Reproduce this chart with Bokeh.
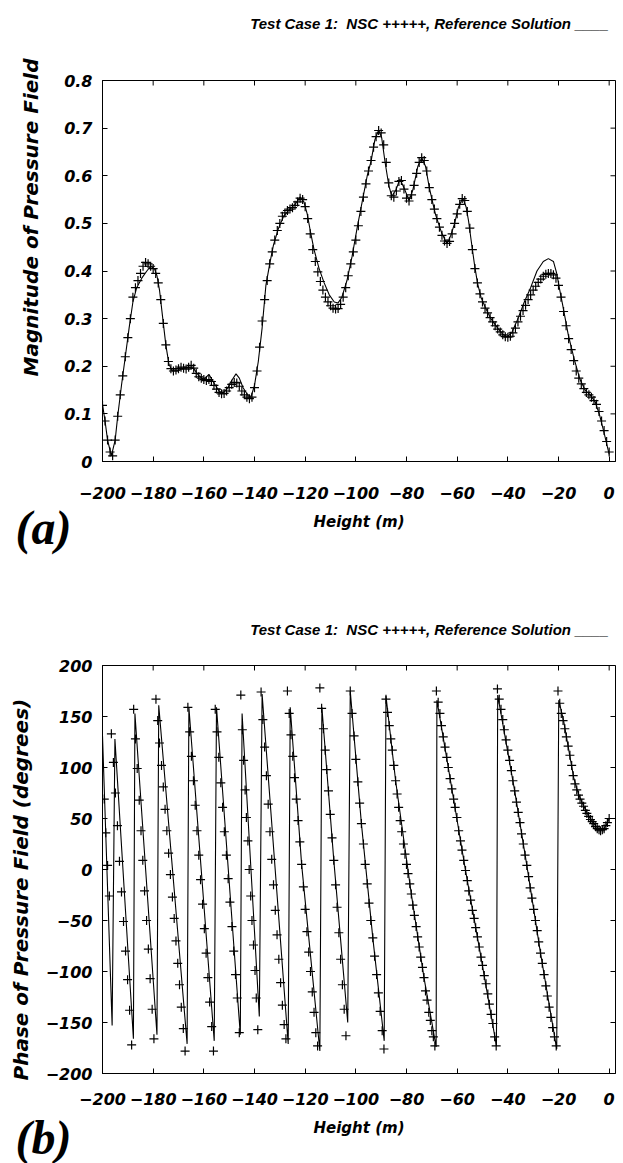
import math
from bokeh.plotting import figure
from bokeh.models import Range1d, FixedTicker, Title, CustomJSTickFormatter
from bokeh.layouts import column
from bokeh.embed import file_html
from bokeh.resources import INLINE

# ---------------- data: panel (a) magnitude ----------------
mag_ref_h = [-200, -199, -198, -196.5, -195, -194, -192.5, -191, -189.5, -188, -186.5, -184.5, -182.5, -181,
             -179.5, -178.5, -177.5, -176.2, -175, -173.8, -172.5, -170.5, -168.5, -166, -164, -162, -160, -158,
             -156, -154, -152.5, -150.5, -149, -147.3, -146, -144.5, -142.5, -141.3, -140, -138.5, -137, -135.5,
             -134, -132.5, -130.5, -128.5, -126, -124, -122, -120.5, -119.2, -118, -116.5, -114.5, -112.5, -110.5,
             -108.5, -107, -105.5, -103.5, -101.5, -99.5, -97.5, -95.5, -94, -92.5, -91, -89.8, -88.5, -87, -85.8,
             -84.2, -82.6, -81, -79, -77.5, -75.5, -74, -72.5, -71, -69.5, -68.5, -66, -64, -62.5, -61, -59.5, -57.8,
             -56.5, -55.5, -54.5, -53.2, -52, -50.6, -48.6, -46.7, -44, -42, -40.3, -38.5, -36, -33.5, -31, -28.5,
             -26, -24, -22, -20.7, -19.5, -18.4, -16.1, -13.8, -11.5, -9.5, -7.5, -5.5, -3.8, -2, 0]
mag_ref_m = [0.12, 0.085, 0.045, 0.012, 0.045, 0.095, 0.16, 0.22, 0.28, 0.335, 0.365, 0.385, 0.40, 0.41,
             0.405, 0.39, 0.36, 0.30, 0.245, 0.205, 0.19, 0.19, 0.195, 0.198, 0.195, 0.18, 0.172, 0.183,
             0.165, 0.148, 0.143, 0.155, 0.17, 0.184, 0.175, 0.155, 0.138, 0.137, 0.16, 0.21, 0.28, 0.37,
             0.415, 0.455, 0.49, 0.515, 0.53, 0.54, 0.555, 0.545, 0.52, 0.485, 0.445, 0.405, 0.375, 0.35,
             0.335, 0.333, 0.345, 0.38, 0.43, 0.49, 0.545, 0.6, 0.63, 0.675, 0.696, 0.68, 0.63, 0.58, 0.557,
             0.57, 0.593, 0.575, 0.548, 0.57, 0.62, 0.638, 0.62, 0.575, 0.54, 0.518, 0.478, 0.458, 0.475, 0.5, 0.534, 0.553,
             0.535, 0.505, 0.465, 0.415, 0.375, 0.345, 0.32, 0.3, 0.28, 0.267, 0.262, 0.27, 0.3, 0.335, 0.365, 0.4,
             0.42, 0.426, 0.42, 0.395, 0.36, 0.33, 0.265, 0.215, 0.172, 0.15, 0.14, 0.125, 0.098, 0.06, 0.015]

mag_nsc_h = [-200, -199, -198, -197, -196, -195, -194, -193, -192, -191,
             -190, -189, -188, -187, -186, -185, -184, -183, -182, -181,
             -180, -179, -178, -177, -176, -175, -174, -173, -172, -171,
             -170, -169, -168, -167, -166, -165, -164, -163, -162, -161,
             -160, -159, -158, -157, -156, -155, -154, -153, -152, -151,
             -150, -149, -148, -147, -146, -145, -144, -143, -142, -141,
             -140, -139, -138, -137, -136, -135, -134, -133, -132, -131,
             -130, -129, -128, -127, -126, -125, -124, -123, -122, -121,
             -120, -119, -118, -117, -116, -115, -114, -113, -112, -111,
             -110, -109, -108, -107, -106, -105, -104, -103, -102, -101,
             -100, -99, -98, -97, -96, -95, -94, -93, -92, -91,
             -90, -89, -88, -87, -86, -85, -84, -83, -82, -81,
             -80, -79, -78, -77, -76, -75, -74, -73, -72, -71,
             -70, -69, -68, -67, -66, -65, -64, -63, -62, -61,
             -60, -59, -58, -57, -56, -55, -54, -53, -52, -51,
             -50, -49, -48, -47, -46, -45, -44, -43, -42, -41,
             -40, -39, -38, -37, -36, -35, -34, -33, -32, -31,
             -30, -29, -28, -27, -26, -25, -24, -23, -22, -21,
             -20, -19, -18, -17, -16, -15, -14, -13, -12, -11,
             -10, -9, -8, -7, -6, -5, -4, -3, -2, -1, 0]
mag_nsc_m = [0.118, 0.085, 0.045, 0.02, 0.012, 0.045, 0.095, 0.14, 0.18, 0.22,
             0.26, 0.30, 0.345, 0.365, 0.38, 0.395, 0.41, 0.418, 0.415, 0.41,
             0.405, 0.395, 0.375, 0.34, 0.29, 0.245, 0.21, 0.195, 0.19, 0.192,
             0.195, 0.198, 0.196, 0.194, 0.198, 0.202, 0.196, 0.185, 0.178, 0.175,
             0.172, 0.17, 0.172, 0.168, 0.16, 0.152, 0.145, 0.142, 0.143, 0.148,
             0.155, 0.162, 0.166, 0.165, 0.158, 0.148, 0.14, 0.135, 0.132, 0.135,
             0.155, 0.19, 0.24, 0.295, 0.34, 0.38, 0.415, 0.44, 0.465, 0.485,
             0.5, 0.515, 0.522, 0.527, 0.53, 0.533, 0.538, 0.545, 0.553, 0.55,
             0.535, 0.51, 0.478, 0.445, 0.42, 0.398, 0.378, 0.36, 0.345, 0.335,
             0.327, 0.322, 0.32, 0.321, 0.33, 0.345, 0.365, 0.39, 0.415, 0.44,
             0.465, 0.495, 0.525, 0.555, 0.583, 0.61, 0.632, 0.66, 0.682, 0.695,
             0.69, 0.665, 0.628, 0.585, 0.558, 0.555, 0.568, 0.588, 0.59, 0.572,
             0.553, 0.547, 0.56, 0.58, 0.605, 0.628, 0.638, 0.632, 0.61, 0.575,
             0.55, 0.53, 0.51, 0.492, 0.475, 0.463, 0.458, 0.462, 0.478, 0.5,
             0.52, 0.54, 0.552, 0.548, 0.525, 0.49, 0.445, 0.405, 0.375, 0.352,
             0.335, 0.322, 0.312, 0.302, 0.293, 0.285, 0.278, 0.272, 0.266, 0.262,
             0.261, 0.263, 0.27, 0.28, 0.293, 0.305, 0.317, 0.328, 0.34, 0.35,
             0.36, 0.368, 0.376, 0.383, 0.389, 0.393, 0.395, 0.395, 0.392, 0.385,
             0.37, 0.345, 0.315, 0.285, 0.258, 0.235, 0.212, 0.19, 0.175, 0.163,
             0.153, 0.145, 0.14, 0.135, 0.128, 0.12, 0.105, 0.085, 0.065, 0.042, 0.02]

# ---------------- data: panel (b) phase ----------------
ph_ref_h = [-200, -196.2, -195.1, -187.8, -187.2, -178.5, -177.8, -166.6, -165.9, -155.9,
            -155.0, -145.6, -144.9, -138.1, -137.0, -126.7, -125.9, -121.4, -114.2,
            -113.4, -108.7, -103.2, -102.2, -97.8, -93.3, -88.8,
            -88.1, -84.3, -78.1, -73.1, -68.3, -68.0, -63.5, -56.7, -50.6, -44.5,
            -44.0, -37.3, -32.5, -27.1, -20.7,
            -19.9, -18, -16, -14, -12, -10, -8, -6, -4, -2.5, -1, 0]
ph_ref_v = [131, -153, 128, -166, 153, -162, 161, -171, 159, -168,
            159, -162, 153, -144, 172, -171, 159, 5, -178,
            159, 9, -150, 175, 45, -67, -168,
            170, 87, -24, -106, -174, 166, 100, -1, -86, -173,
            171, 77, 4, -82, -176,
            166, 146, 118, 90, 73, 62, 52, 45, 39, 39, 44, 50]

ph_nsc_h = [-200.0, -199.3, -198.7, -198.0, -197.3,
            -196.5, -195.7, -194.9, -194.1, -193.3, -192.5, -191.7, -190.9, -190.1, -189.3, -188.5,
            -187.7, -187.0, -186.3, -185.5, -184.8, -184.1, -183.4, -182.6, -181.9, -181.2, -180.4, -179.7,
            -178.9, -178.2, -177.5, -176.7, -176.0, -175.3, -174.6, -173.9, -173.2, -172.4, -171.7, -171.0,
            -170.3, -169.6, -168.9, -168.1, -167.4,
            -166.3, -165.6, -164.9, -164.1, -163.4, -162.7, -162.0, -161.3, -160.5, -159.8, -159.1, -158.4,
            -157.7, -156.9, -156.2,
            -155.5, -154.8, -154.1, -153.3, -152.6, -151.9, -151.1, -150.4, -149.7, -148.9, -148.2, -147.5,
            -146.8, -146.0,
            -145.4, -144.8, -144.3, -143.7, -143.2, -142.6, -142.1, -141.5, -141.0, -140.4, -139.8, -139.3, -138.7,
            -137.4, -136.7, -136.0, -135.3, -134.6, -133.9, -133.2, -132.5, -131.8, -131.1, -130.4, -129.7,
            -129.0, -128.3, -127.6,
            -127.0, -126.3, -125.6, -124.9, -124.2, -123.5, -122.8, -122.1, -121.4, -120.7, -120.0, -119.3,
            -118.6, -117.9, -117.2, -116.5, -115.8, -115.1,
            -114.2, -113.5, -112.8, -112.1, -111.5, -110.8, -110.1, -109.4, -108.7, -108.0, -107.4, -106.7,
            -106.0, -105.3, -104.6, -103.9,
            -102.2, -101.5, -100.7, -100.0, -99.2, -98.5, -97.8, -97.0, -96.3, -95.5, -94.8, -94.1, -93.3,
            -92.6, -91.8, -91.1, -90.4, -89.6, -88.9,
            -88.1, -87.5, -86.8, -86.2, -85.6, -85.0, -84.3, -83.7, -83.1, -82.5, -81.9, -81.2, -80.6, -80.0,
            -79.4, -78.7, -78.1, -77.5, -76.9, -76.2, -75.6, -75.0, -74.4, -73.7, -73.1, -72.5, -71.9, -71.2,
            -70.6, -70.0, -69.4, -68.8,
            -68.2, -67.5, -66.8, -66.2, -65.5, -64.8, -64.1, -63.5, -62.8, -62.1, -61.4, -60.8, -60.1, -59.4,
            -58.7, -58.1, -57.4, -56.7, -56.0, -55.4, -54.7, -54.0, -53.3, -52.7, -52.0, -51.3, -50.6, -50.0,
            -49.3, -48.6, -47.9, -47.3, -46.6, -45.9, -45.2, -44.6,
            -44.1, -43.4, -42.7, -42.0, -41.4, -40.7, -40.0, -39.3, -38.6, -38.0, -37.3, -36.6, -35.9, -35.2,
            -34.6, -33.9, -33.2, -32.5, -31.8, -31.2, -30.5, -29.8, -29.1, -28.4, -27.8, -27.1, -26.4, -25.7,
            -25.0, -24.4, -23.7, -23.0, -22.3, -21.6, -20.9,
            -20.2, -19.5, -18.9, -18.2, -17.5, -16.9, -16.2, -15.5, -14.8, -14.2, -13.5, -12.8, -12.1, -11.5,
            -10.8, -10.1, -9.4, -8.8, -8.1, -7.4, -6.7, -6.1, -5.4, -4.7, -4.0, -3.4, -2.7, -2.0, -1.3, -0.7, 0.0]
ph_nsc_v = [100, 69, 36, 4, -26,
            133, 105, 75, 43, 8, -22, -51, -80, -108, -138, -172,
            157, 128, 99, 68, 38, 9, -21, -50, -78, -107, -137, -166,
            167, 146, 124, 102, 81, 59, 38, 16, -5, -27, -48, -70,
            -92, -113, -135, -156, -178,
            159, 135, 111, 87, 63, 38, 14, -10, -34, -58, -82, -106,
            -130, -154, -178,
            157, 135, 110, 85, 61, 37, 14, -9, -32, -56, -80, -103,
            -126, -160,
            171, 137, 107, 78, 51, 28, 0, -26, -50, -74, -99, -126, -157,
            174, 147, 120, 92, 64, 37, 10, -15, -40, -64, -88, -111,
            -133, -152, -166,
            175, 153, 132, 111, 90, 69, 48, 27, 5, -17, -39, -61,
            -81, -100, -120, -140, -160, -173,
            178, 158, 138, 117, 98, 77, 54, 31, 9, -15, -37, -62,
            -88, -113, -137, -163,
            175, 153, 131, 108, 86, 65, 45, 25, 5, -14, -33, -50, -67,
            -85, -103, -121, -139, -158, -176,
            167, 154, 141, 128, 117, 102, 87, 74, 61, 48, 37, 25, 15, 5,
            -4, -14, -24, -35, -45, -56, -66, -76, -86, -96, -106, -119, -128, -140,
            -148, -158, -164, -173,
            175, 164, 153, 141, 130, 120, 110, 100, 89, 79, 69, 61, 51, 38,
            28, 19, 9, -1, -11, -21, -30, -40, -48, -57, -66, -76, -86, -94,
            -104, -112, -122, -132, -142, -151, -164, -173,
            177, 167, 157, 147, 137, 127, 117, 107, 97, 87, 77, 66, 56, 46,
            35, 25, 14, 4, -7, -18, -28, -39, -50, -60, -71, -82, -92, -103,
            -114, -124, -135, -145, -155, -164, -173,
            175, 163, 153, 146, 138, 130, 121, 112, 102, 92, 84, 78, 73, 69,
            65, 62, 58, 55, 52, 49, 47, 45, 42, 40, 39, 38, 39, 40, 43, 46, 50]

x_ticks = [-200, -180, -160, -140, -120, -100, -80, -60, -40, -20, 0]
mag_ticks = [0, 0.1, 0.2, 0.3, 0.4, 0.5, 0.6, 0.7, 0.8]
ph_ticks = [-200, -150, -100, -50, 0, 50, 100, 150, 200]

TITLE = "Test Case 1:\u00a0 NSC +++++, Reference Solution ____"
SANS = "DejaVu Sans"
ARIAL = "Liberation Sans"
SERIF = "Liberation Serif"

fmt_code = "return (tick < 0 ? '\\u2212' + (-tick) : '' + tick);"


def style_axes(p, yticks, xstand, xlabstand, ystand):
    xa = p.xaxis[0]
    ya = p.yaxis[0]
    for ax in (xa, ya):
        ax.major_tick_in = 5
        ax.major_tick_out = 0
        ax.minor_tick_line_color = None
        ax.axis_line_color = "black"
        ax.major_tick_line_color = "black"
        ax.major_label_text_font = SANS
        ax.major_label_text_font_style = "bold italic"
        ax.major_label_text_font_size = "16px"
        ax.major_label_text_color = "black"
        ax.formatter = CustomJSTickFormatter(code=fmt_code)
    xa.ticker = FixedTicker(ticks=x_ticks)
    ya.ticker = FixedTicker(ticks=yticks)
    xa.major_label_standoff = xstand
    ya.major_label_standoff = ystand
    xa.axis_label = "Height (m)"
    xa.axis_label_text_font = SANS
    xa.axis_label_text_font_style = "bold italic"
    xa.axis_label_text_font_size = "15px"
    xa.axis_label_text_color = "black"
    xa.axis_label_standoff = xlabstand
    p.grid.visible = False
    p.outline_line_color = "black"
    p.outline_line_width = 1
    # inward ticks on the top and right edges of the frame (half of each dash is clipped away)
    xr, yr = p.x_range, p.y_range
    p.scatter(x=x_ticks, y=[yr.end] * len(x_ticks), marker="dash", angle=math.pi / 2,
              size=10, line_color="black", line_width=1)
    p.scatter(x=[xr.end] * len(yticks), y=yticks, marker="dash",
              size=10, line_color="black", line_width=1)


def set_title(p, text, standoff):
    p.title.text = text
    p.title.align = "right"
    p.title.offset = 7
    p.title.vertical_align = "top"
    p.title.standoff = standoff
    p.title.text_font = ARIAL
    p.title.text_font_style = "bold italic"
    p.title.text_font_size = "15px"
    p.title.text_color = "black"


def side_title(p, text, side, size, font, align, offset, standoff, valign="top"):
    t = Title(text=text, align=align, offset=offset, standoff=standoff, vertical_align=valign,
              text_font=font, text_font_style="bold italic", text_font_size=size, text_color="black")
    p.add_layout(t, side)


# ---------------- panel (a) ----------------
pa = figure(width=623, height=580, x_range=Range1d(-200, 2.5), y_range=Range1d(0, 0.8),
            output_backend="svg", toolbar_location=None,
            min_border_left=97, min_border_right=8, min_border_top=80, min_border_bottom=119)
pa.line(mag_ref_h, mag_ref_m, line_color="black", line_width=1.1)
pa.scatter(mag_nsc_h, mag_nsc_m, marker="cross", size=9, line_color="black", line_width=1.2)
style_axes(pa, mag_ticks, 25, 11, 10)
set_title(pa, TITLE + "\n \n ", 26)
side_title(pa, "Magnitude of Pressure Field", "left", "20px", SANS, "right", -22, 34)
side_title(pa, "(a)", "below", "48px", SERIF, "left", -87, -66)

# ---------------- panel (b) ----------------
pb = figure(width=623, height=583, x_range=Range1d(-200, 2.5), y_range=Range1d(-200, 200),
            output_backend="svg", toolbar_location=None,
            min_border_left=97, min_border_right=8, min_border_top=85, min_border_bottom=90)
pb.line(ph_ref_h, ph_ref_v, line_color="black", line_width=1.1)
pb.scatter(ph_nsc_h, ph_nsc_v, marker="cross", size=9, line_color="black", line_width=1.2)
style_axes(pb, ph_ticks, 19, 11, 10)
set_title(pb, TITLE, 52)
side_title(pb, "Phase of Pressure Field (degrees)", "left", "20px", SANS, "left", -7, 16)
side_title(pb, "(b)", "below", "48px", SERIF, "left", -87, -58)

layout = column(pa, pb, spacing=0)
open("out.html", "w").write(file_html(layout, INLINE))
